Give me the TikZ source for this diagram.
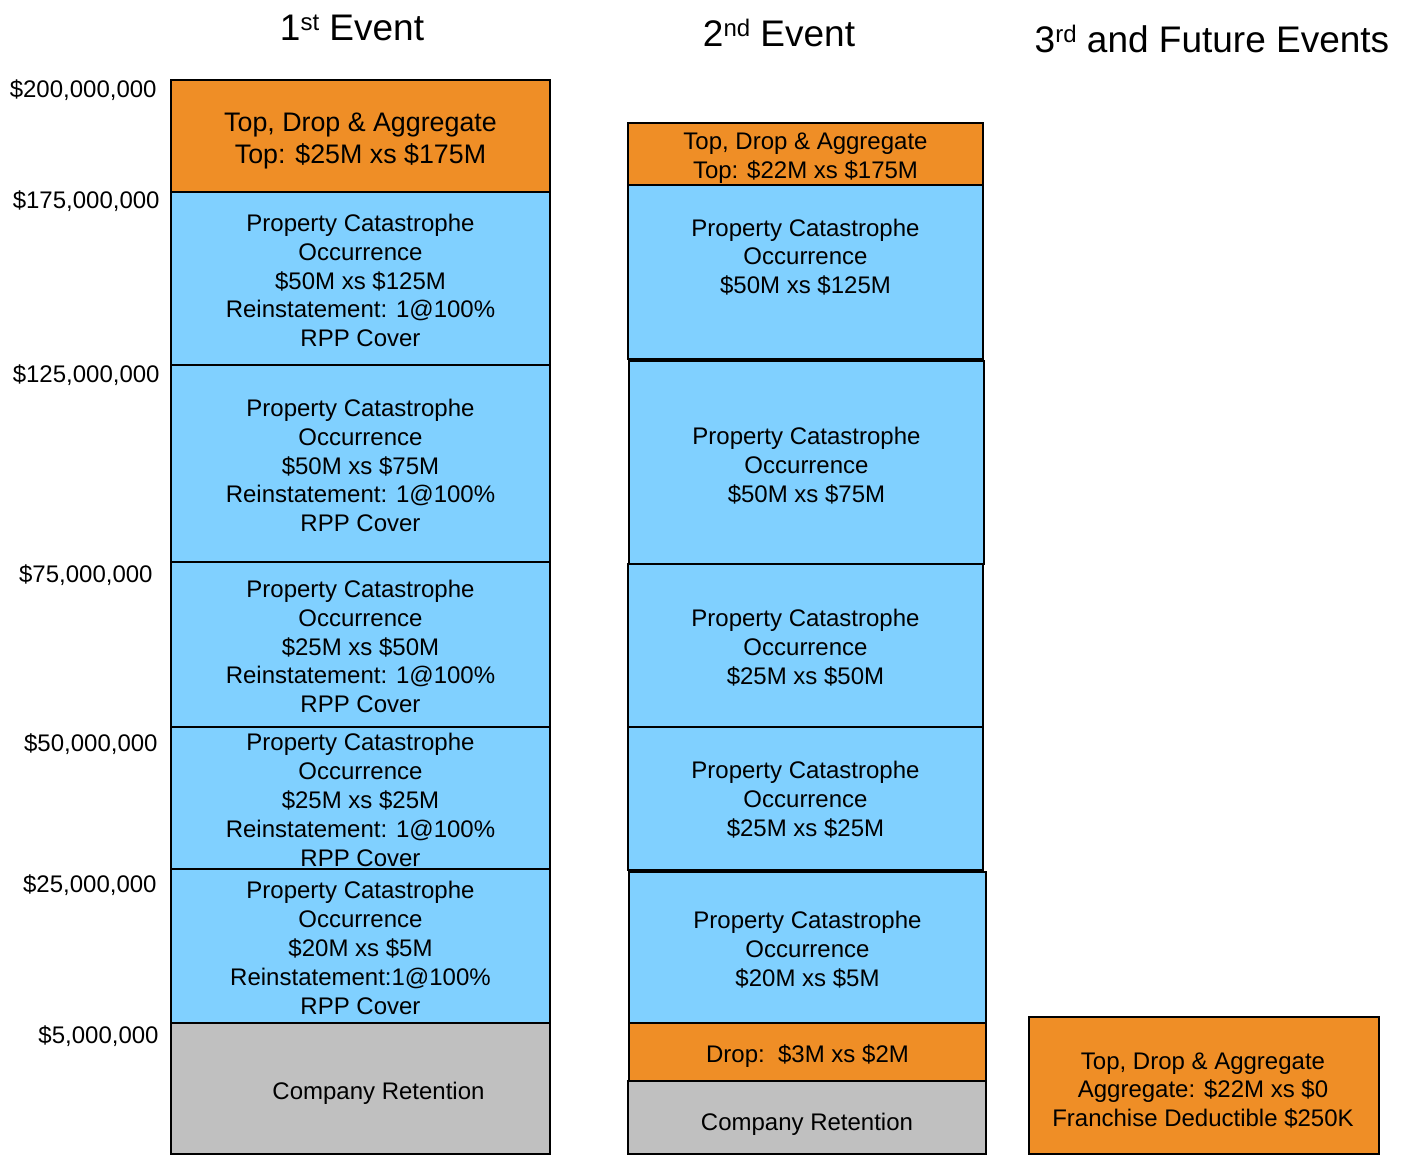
\documentclass[tikz,border=0pt]{standalone}
\usepackage{fontspec}
\setmainfont{Liberation Sans}
\definecolor{layerorange}{RGB}{239,142,38}
\definecolor{layerblue}{RGB}{128,208,255}
\definecolor{layergray}{RGB}{192,192,192}

\def\layerinner[#1]#2#3{%
  node[midway,align=center,inner sep=0pt,#1] (#2) {#3}%
}
\def\catocc#1{Property Catastrophe\\Occurrence\\#1}
\def\catrpp#1#2{\catocc{#1}\\Reinstatement:#2\\RPP Cover}
\def\ordsup#1{\raisebox{0.55ex}{\fontsize{12}{12}\selectfont #1}}

\begin{document}
\begin{tikzpicture}[x=0.5pt,y=-0.5pt,
    font=\fontsize{12}{14.4}\selectfont,
    layer/.style={draw,line width=1.4pt},
    cat/.style={layer,fill=layerblue},
    tda/.style={layer,fill=layerorange},
    ret/.style={layer,fill=layergray},
    axislabel/.style={anchor=east,inner sep=0pt},
    eventtitle/.style={font=\fontsize{18.5}{22}\selectfont}]
    \useasboundingbox (0,0) rectangle (1409,1156);

    % Ueberschriften
    \node[eventtitle] (title1) at (352,28) {1\ordsup{st} Event};
    \node[eventtitle] (title2) at (779,33) {2\ordsup{nd} Event};
    \node[eventtitle] (title3) at (1212,39) {3\ordsup{rd} and Future Events};

    % Achse
    \node[axislabel] (l200) at (157,90) {\$200,000,000};
    \node[axislabel] (l175) at (160,201) {\$175,000,000};
    \node[axislabel] (l125) at (160,375) {\$125,000,000};
    \node[axislabel] (l75) at (153,575) {\$75,000,000};
    \node[axislabel] (l50) at (158,744) {\$50,000,000};
    \node[axislabel] (l25) at (157,885) {\$25,000,000};
    \node[axislabel] (l5) at (159,1036) {\$5,000,000};

    % 1. Ereignis
    \draw[tda] (171,80) rectangle (550,192) \layerinner[yshift=-2.5pt,font=\fontsize{13.4}{16}\selectfont]{a1}{Top, Drop \& Aggregate\\Top: \$25M xs \$175M};
    \draw[cat] (171,192) rectangle (550,365) \layerinner[yshift=-1pt]{a2}{\catrpp{\$50M xs \$125M}{ 1@100\%}};
    \draw[cat] (171,365) rectangle (550,562) \layerinner[yshift=-1pt]{a3}{\catrpp{\$50M xs \$75M}{ 1@100\%}};
    \draw[cat] (171,562) rectangle (550,727) \layerinner[yshift=-1pt]{a4}{\catrpp{\$25M xs \$50M}{ 1@100\%}};
    \draw[cat] (171,727) rectangle (550,869) \layerinner[yshift=-1pt]{a5}{\catrpp{\$25M xs \$25M}{ 1@100\%}};
    \draw[cat] (171,869) rectangle (550,1023) \layerinner[yshift=-1pt]{a6}{\catrpp{\$20M xs \$5M}{1@100\%}};
    \draw[ret] (171,1023) rectangle (550,1154) \layerinner[xshift=9pt,yshift=-2.5pt]{a7}{Company Retention};

    % 2. Ereignis
    \draw[tda] (628,123) rectangle (983,185) \layerinner[yshift=-2pt]{b1}{Top, Drop \& Aggregate\\Top: \$22M xs \$175M};
    \draw[cat] (628,185) rectangle (983,359) \layerinner[yshift=7.5pt]{b2}{\catocc{\$50M xs \$125M}};
    \draw[cat] (629,361) rectangle (984,564) \layerinner[yshift=-1.5pt]{b3}{\catocc{\$50M xs \$75M}};
    \draw[cat] (628,564) rectangle (983,727) \layerinner[yshift=-1pt]{b4}{\catocc{\$25M xs \$50M}};
    \draw[cat] (628,727) rectangle (983,870) \layerinner[yshift=-0.5pt]{b5}{\catocc{\$25M xs \$25M}};
    \draw[cat] (629,872) rectangle (986,1023) \layerinner[yshift=-1pt]{b6}{\catocc{\$20M xs \$5M}};
    \draw[tda] (629,1023) rectangle (986,1081) \layerinner[yshift=-2pt]{b7}{Drop:\ \ \$3M xs \$2M};
    \draw[ret] (628,1081) rectangle (986,1154) \layerinner[yshift=-3.5pt]{b8}{Company Retention};

    % 3. und weitere Ereignisse
    \draw[tda] (1029,1017) rectangle (1379,1154) \layerinner[xshift=-0.5pt,yshift=-2.5pt]{c1}{Top, Drop \& Aggregate\\Aggregate: \$22M xs \$0\\Franchise Deductible \$250K};
\end{tikzpicture}
\end{document}
